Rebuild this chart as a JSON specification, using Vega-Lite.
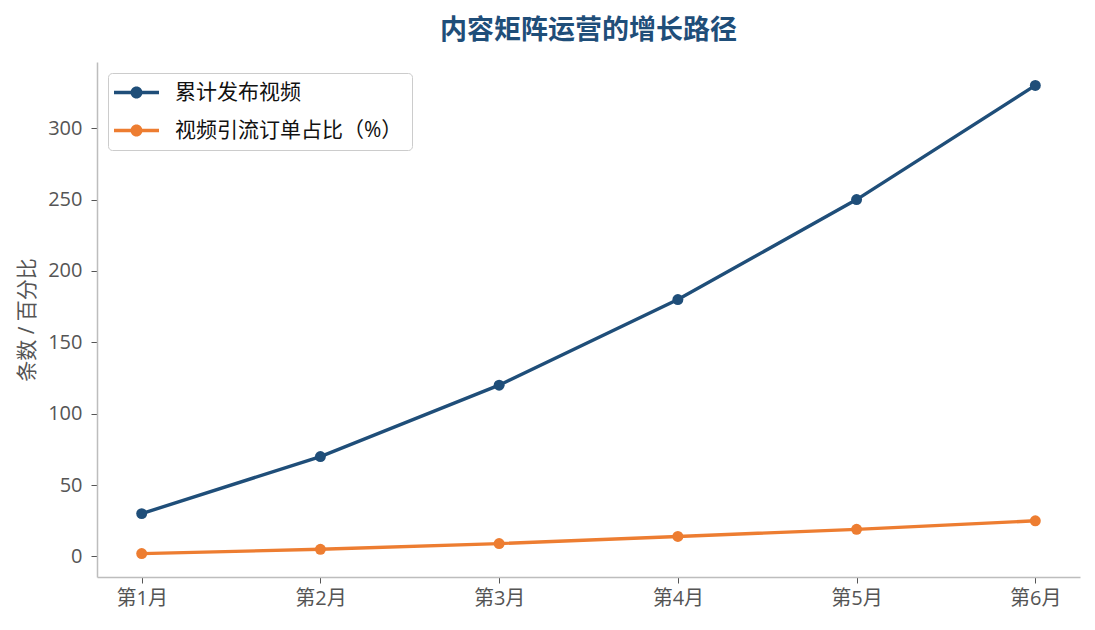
{
  "$schema": "https://vega.github.io/schema/vega-lite/v6.json",
  "width": 983,
  "height": 515,
  "autosize": {"type": "none"},
  "padding": {"left": 97, "top": 62, "right": 15, "bottom": 53},
  "background": "white",
  "config": {
    "font": "Open Sans, Noto Sans CJK SC",
    "view": {"stroke": null},
    "axis": {"grid": false, "domainColor": "#bdbdbd", "domainWidth": 1.5, "tickColor": "#555555", "tickSize": 6, "labelColor": "#555555", "labelFontSize": 20, "labelFont": "Open Sans, Noto Sans CJK SC", "titleFont": "Open Sans, Noto Sans CJK SC"}
  },
  "title": {"text": "内容矩阵运营的增长路径", "fontSize": 27, "fontWeight": "bold", "color": "#1f4e79", "anchor": "middle", "offset": 17, "font": "Noto Sans CJK SC"},
  "data": {"values": [
    {"month": "第1月", "series": "累计发布视频", "value": 30},
    {"month": "第2月", "series": "累计发布视频", "value": 70},
    {"month": "第3月", "series": "累计发布视频", "value": 120},
    {"month": "第4月", "series": "累计发布视频", "value": 180},
    {"month": "第5月", "series": "累计发布视频", "value": 250},
    {"month": "第6月", "series": "累计发布视频", "value": 330},
    {"month": "第1月", "series": "视频引流订单占比（%）", "value": 2},
    {"month": "第2月", "series": "视频引流订单占比（%）", "value": 5},
    {"month": "第3月", "series": "视频引流订单占比（%）", "value": 9},
    {"month": "第4月", "series": "视频引流订单占比（%）", "value": 14},
    {"month": "第5月", "series": "视频引流订单占比（%）", "value": 19},
    {"month": "第6月", "series": "视频引流订单占比（%）", "value": 25}
  ]},
  "mark": {"type": "line", "strokeWidth": 3.4, "point": {"filled": true, "size": 120, "opacity": 1}},
  "encoding": {
    "x": {"field": "month", "type": "ordinal", "sort": null, "scale": {"type": "point", "padding": 0.25},
      "axis": {"title": null, "labelAngle": 0, "labelPadding": 5}},
    "y": {"field": "value", "type": "quantitative", "scale": {"domain": [-14.4, 346.4], "nice": false, "zero": false},
      "axis": {"title": "条数 / 百分比", "titleFontSize": 21, "titleFontWeight": "normal", "titleColor": "#555555", "titlePadding": 10, "values": [0, 50, 100, 150, 200, 250, 300], "labelPadding": 9}},
    "color": {"field": "series", "type": "nominal", "sort": ["累计发布视频", "视频引流订单占比（%）"],
      "scale": {"domain": ["累计发布视频", "视频引流订单占比（%）"], "range": ["#1f4e79", "#ed7d31"]},
      "legend": {"title": null, "orient": "top-left", "offset": 11, "padding": 9, "rowPadding": 16,
        "strokeColor": "#cccccc", "fillColor": "white", "cornerRadius": 4,
        "labelFontSize": 21, "labelColor": "#111111", "labelFont": "Open Sans, Noto Sans CJK SC", "labelLimit": 500,
        "symbolType": "M-2.25,-0.17L2.25,-0.17L2.25,0.17L-2.25,0.17Z M0.6,0A0.6,0.6 0 1,1 -0.6,0A0.6,0.6 0 1,1 0.6,0Z",
        "symbolSize": 400, "symbolOffset": 9, "labelOffset": 28, "symbolStrokeWidth": 0,
        "encode": {"symbols": {"update": {"fill": {"scale": "color", "field": "value"}, "strokeWidth": {"value": 0}, "opacity": {"value": 1}}}}}
    }
  }
}
